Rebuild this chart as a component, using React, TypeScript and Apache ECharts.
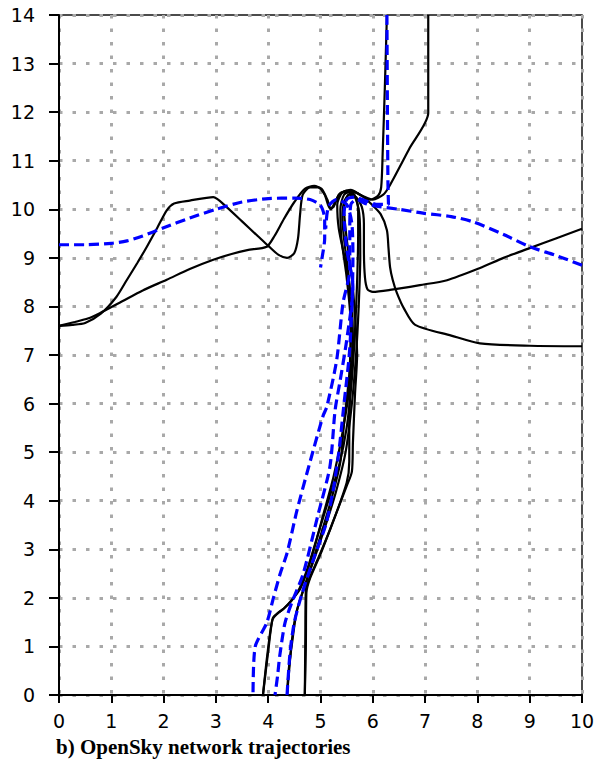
import React, { useEffect, useRef } from "react";
import * as echarts from "echarts";

// Axis ticks
const xTicks = [0, 1, 2, 3, 4, 5, 6, 7, 8, 9, 10];
const yTicks = [0, 1, 2, 3, 4, 5, 6, 7, 8, 9, 10, 11, 12, 13, 14];
const caption = "b) OpenSky network trajectories";

// Black (solid) trajectories, [x, y]
const blackA = [[0,7.6],[0.25,7.62],[0.5,7.66],[0.8,7.85],[1.1,8.2],[1.3,8.55],[1.5,8.9],[1.68,9.23],[1.88,9.62],[2.06,9.98],[2.2,10.12],[2.5,10.18],[2.95,10.25],[3.2,10.05],[3.5,9.75],[3.8,9.45],[4.0,9.25],[4.2,9.06],[4.36,9.0],[4.5,9.1],[4.57,9.4],[4.61,9.9],[4.66,10.3],[4.8,10.45],[4.95,10.45],[5.08,10.3],[5.18,10.02],[5.25,10.05],[5.35,10.3],[5.5,10.38],[5.65,10.3],[5.72,10.0],[5.72,9.5],[5.7,8.5],[5.66,7.5],[5.6,6.5],[5.5,5.5],[5.35,4.7],[5.15,4.0],[4.95,3.3],[4.75,2.6],[4.6,2.2],[4.45,1.95],[4.3,1.78],[4.2,1.7],[4.09,1.59],[4.0,0.9],[3.9,0]];
const blackB = [[0,7.6],[0.3,7.68],[0.55,7.75],[0.78,7.86],[1.2,8.1],[1.6,8.33],[2.06,8.55],[2.5,8.77],[2.95,8.96],[3.3,9.08],[3.6,9.16],[3.97,9.23],[4.12,9.45],[4.3,9.8],[4.5,10.15],[4.7,10.42],[4.88,10.48],[5.02,10.42],[5.13,10.2],[5.2,10.0],[5.28,10.15],[5.4,10.35],[5.55,10.35],[5.68,10.2],[5.75,9.8],[5.76,9.0],[5.73,8.0],[5.68,7.0],[5.6,6.0],[5.48,5.0],[5.3,4.2],[5.1,3.5],[4.88,2.8],[4.65,2.1],[4.52,1.6],[4.45,1.1],[4.4,0.5],[4.36,0]];
const blackC = [[10,9.6],[9.5,9.4],[9.0,9.2],[8.5,9.0],[8.05,8.79],[7.42,8.54],[6.9,8.44],[6.33,8.34],[6.0,8.3],[5.9,8.35],[5.85,8.6],[5.83,9.2],[5.83,9.7],[5.79,10.05],[5.68,10.25],[5.55,10.3],[5.45,10.15],[5.42,9.8],[5.46,9.3],[5.55,8.5],[5.58,7.5],[5.57,6.5],[5.55,5.5],[5.55,4.8],[5.5,4.37],[5.2,3.45],[4.95,2.8],[4.8,2.43],[4.72,2.16],[4.71,1.2],[4.7,0]];
const blackD = [[10,7.18],[9.0,7.19],[8.05,7.24],[7.5,7.4],[6.81,7.62],[6.6,7.95],[6.46,8.28],[6.38,8.55],[6.33,8.81],[6.3,9.2],[6.27,9.57],[6.15,9.9],[5.95,10.13],[5.8,10.27],[5.65,10.35],[5.52,10.28],[5.45,10.0],[5.5,9.4],[5.6,8.6],[5.66,7.8],[5.7,7.0],[5.66,6.2],[5.62,5.2],[5.6,4.6],[5.5,4.3],[5.25,3.6],[5.0,2.9],[4.8,2.4],[4.73,2.1],[4.72,1.0],[4.7,0]];
const blackE = [[7.06,14],[7.06,12.9],[7.06,11.98],[6.7,11.25],[6.33,10.5],[6.2,10.3],[6.0,10.2],[5.8,10.28],[5.6,10.38],[5.45,10.3],[5.38,10.0],[5.4,9.4],[5.5,8.6],[5.58,7.6],[5.55,6.6],[5.45,5.6],[5.38,4.8],[5.2,4.0],[4.95,3.1],[4.72,2.3],[4.55,1.75],[4.46,1.1],[4.39,0.5],[4.36,0]];
const blackF = [[6.27,14],[6.23,12.5],[6.19,11.2],[6.16,10.45],[6.1,10.28],[5.95,10.2],[5.75,10.3],[5.58,10.4],[5.42,10.35],[5.32,10.1],[5.35,9.6],[5.5,8.8],[5.6,8.0],[5.62,7.2],[5.55,6.3],[5.42,5.4],[5.25,4.5],[5.05,3.7],[4.82,2.8],[4.62,2.2],[4.45,1.95],[4.3,1.78],[4.18,1.68],[4.08,1.55],[3.98,0.8],[3.9,0]];

// Blue (dashed) trajectories, [x, y]
const blueLeft = [[0,9.27],[0.5,9.27],[1.0,9.3],[1.3,9.35],[1.6,9.45],[2.0,9.62],[2.5,9.82],[3.0,10.0],[3.5,10.15],[4.0,10.22],[4.5,10.23],[4.8,10.2],[5.0,10.08],[5.08,9.8],[5.08,9.4],[5.03,9.0],[5.0,8.8]];
const blueRight = [[10,8.85],[9.5,9.05],[9.0,9.23],[8.5,9.48],[7.92,9.74],[7.5,9.85],[6.96,9.92],[6.5,10.0],[6.1,10.06],[5.85,10.12],[5.7,10.2],[5.58,10.1],[5.56,9.6],[5.56,8.75],[5.43,8.07],[5.31,6.9],[5.12,5.93],[5.05,5.75],[4.8,4.8],[4.55,3.8],[4.36,2.92],[4.23,2.5],[4.1,2.0],[3.97,1.48],[3.75,0.99],[3.71,0]];
const blueTop = [[6.27,14],[6.28,12],[6.29,10.5],[6.3,10.1],[6.1,10.1],[5.85,10.18],[5.65,10.25],[5.5,10.2],[5.45,9.9],[5.5,9.2],[5.62,8.4],[5.5,7.3],[5.38,6.5],[5.28,5.87],[5.18,4.7],[4.95,3.7],[4.67,2.5],[4.45,1.9],[4.32,1.48],[4.22,0.8],[4.18,0.4],[4.13,0]];
const blueBottom = [[4.36,0],[4.42,0.9],[4.5,1.5],[4.65,2.1],[4.9,2.9],[5.1,3.5],[5.24,4.2],[5.35,5.0],[5.45,6.0],[5.55,7.0],[5.6,8.0],[5.62,9.0],[5.6,9.7],[5.5,10.1],[5.3,10.2],[5.15,10.05],[5.1,9.6]];

const blackTracks = [blackA, blackB, blackC, blackD, blackE, blackF];
const blueTracks = [blueLeft, blueRight, blueTop, blueBottom];

export default function App() {
  const ref = useRef<HTMLDivElement>(null);
  useEffect(() => {
    if (!ref.current) return;
    const chart = echarts.init(ref.current, null, { renderer: "svg" });
    const gridLine = { show: true, lineStyle: { color: "#a9a9a9", width: 3, type: [3.5, 10] } };
    const series: any[] = [];
    blackTracks.forEach((d, i) => {
      series.push({
        type: "line", name: "black" + i, data: d, showSymbol: false, smooth: 0.25,
        lineStyle: { color: "#000", width: 2.2 }, z: 3,
      });
    });
    blueTracks.forEach((d, i) => {
      series.push({
        type: "line", name: "blue" + i, data: d, showSymbol: false, smooth: 0.25,
        lineStyle: { color: "#0000ff", width: 3.2, type: [10, 5] }, z: 4,
      });
    });
    chart.setOption({
      animation: false,
      grid: { left: 59, right: 16, top: 15, bottom: 67, show: true, borderColor: "#111", borderWidth: 1.5 },
      xAxis: {
        type: "value", min: 0, max: 10, interval: 1,
        axisLine: { show: true, lineStyle: { color: "#000", width: 2 } },
        axisTick: { show: true, length: 8, lineStyle: { color: "#000", width: 2 } },
        axisLabel: { fontSize: 19, color: "#000", fontFamily: "DejaVu Sans", margin: 16,
          formatter: (v: number) => (xTicks.includes(v) ? String(v) : "") },
        splitLine: gridLine,
      },
      yAxis: {
        type: "value", min: 0, max: 14, interval: 1,
        axisLine: { show: true, lineStyle: { color: "#000", width: 2 } },
        axisTick: { show: true, length: 10, lineStyle: { color: "#000", width: 2 } },
        axisLabel: { fontSize: 19, color: "#000", fontFamily: "DejaVu Sans", margin: 24,
          formatter: (v: number) => (yTicks.includes(v) ? String(v) : "") },
        splitLine: gridLine,
      },
      graphic: [
        {
          type: "text", left: 56, top: 736,
          style: { text: caption, font: "bold 21px 'Liberation Serif'", fill: "#000" },
        },
      ],
      series,
    });
    return () => chart.dispose();
  }, []);
  return <div ref={ref} style={{ width: 598, height: 762, position: "absolute", left: 0, top: 0 }} />;
}
